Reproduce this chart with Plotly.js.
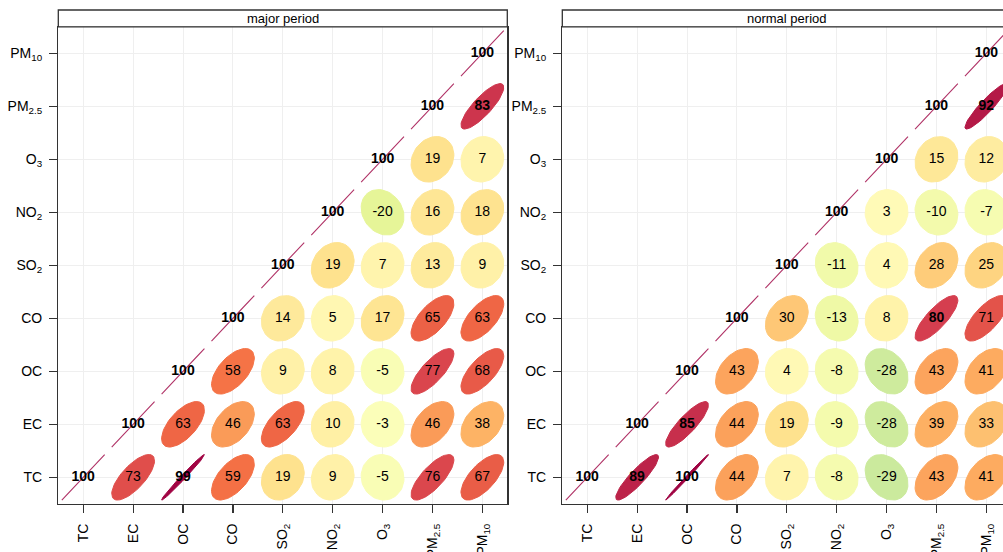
<!DOCTYPE html>
<html><head><meta charset="utf-8">
<script src="https://cdn.plot.ly/plotly-3.0.1.min.js"></script>
<style>html,body{margin:0;padding:0;overflow:hidden;background:#fff}#chart{width:1020px;height:552px}</style>
</head><body><div id="chart"></div>
<script>
// variables (x: left->right, y: bottom->top)
const species = ['TC','EC','OC','CO','SO<sub>2</sub>','NO<sub>2</sub>','O<sub>3</sub>','PM<sub>2.5</sub>','PM<sub>10</sub>'];
const panelTitles = ['major period','normal period'];

// correlations x100, upper triangle: each row starts at its own column and runs to PM10
const majorTC   = [100, 73, 99, 59, 19, 9, -5, 76, 67];
const majorEC   = [100, 63, 46, 63, 10, -3, 46, 38];
const majorOC   = [100, 58, 9, 8, -5, 77, 68];
const majorCO   = [100, 14, 5, 17, 65, 63];
const majorSO2  = [100, 19, 7, 13, 9];
const majorNO2  = [100, -20, 16, 18];
const majorO3   = [100, 19, 7];
const majorPM25 = [100, 83];
const majorPM10 = [100];

const normalTC   = [100, 89, 99.6, 44, 7, -8, -29, 43, 41];
const normalEC   = [100, 85, 44, 19, -9, -28, 39, 33];
const normalOC   = [100, 43, 4, -8, -28, 43, 41];
const normalCO   = [100, 30, -13, 8, 80, 71];
const normalSO2  = [100, -11, 4, 28, 25];
const normalNO2  = [100, 3, -10, -7];
const normalO3   = [100, 15, 12];
const normalPM25 = [100, 92];
const normalPM10 = [100];

const majorRows  = [majorTC, majorEC, majorOC, majorCO, majorSO2, majorNO2, majorO3, majorPM25, majorPM10];
const normalRows = [normalTC, normalEC, normalOC, normalCO, normalSO2, normalNO2, normalO3, normalPM25, normalPM10];

// colour scale (reversed Spectral), from r=-1 to r=+1
const spectralColours = ['#5E4FA2','#3288BD','#66C2A5','#ABDDA4','#E6F598','#FFFFBF','#FEE08B','#FDAE61','#F46D43','#D53E4F','#9E0142'];

function hex2rgb(h){return [parseInt(h.substr(1,2),16),parseInt(h.substr(3,2),16),parseInt(h.substr(5,2),16)];}
function colourFor(r){
  const pos = Math.max(0, Math.min(1, (r + 1) / 2)) * (spectralColours.length - 1);
  const i = Math.min(Math.floor(pos), spectralColours.length - 2);
  const f = pos - i;
  const a = hex2rgb(spectralColours[i]), b = hex2rgb(spectralColours[i+1]);
  const c = a.map((v,k)=>Math.round(v + (b[k]-v)*f));
  return 'rgb(' + c.join(',') + ')';
}
function ellipsePts(r, cx, cy){
  const a = 0.2 * Math.sqrt(-2 * Math.log(0.1));
  const d = Math.acos(Math.max(-1, Math.min(1, r)));
  const xs = [], ys = [];
  const N = 60;
  for (let k = 0; k <= N; k++){
    const t = 2 * Math.PI * k / N;
    xs.push(cx + a * Math.cos(t + d/2));
    ys.push(cy + a * Math.cos(t - d/2));
  }
  return {xs, ys};
}

const traces = [];
const FONT = 'Liberation Sans, Arial, sans-serif';
[majorRows, normalRows].forEach((rows, p) => {
  const xa = p === 0 ? 'x' : 'x2', ya = p === 0 ? 'y' : 'y2';
  const tx = [], ty = [], tt = [];
  rows.forEach((row, i) => {
    row.forEach((v, k) => {
      const j = i + k;           // column index
      const r = v / 100;
      const e = ellipsePts(r, j + 1, i + 1);
      const col = colourFor(r);
      const diag = (k === 0);
      traces.push({type:'scatter', mode:'lines', x:e.xs, y:e.ys, xaxis:xa, yaxis:ya,
        fill:'toself', fillcolor:col, line:{color:col, width:diag ? 1.1 : 1},
        opacity: diag ? 0.8 : 1, hoverinfo:'skip', showlegend:false});
      const lab = Math.round(v);
      tx.push(j + 1); ty.push(i + 1);
      tt.push(lab >= 80 ? '<b>' + lab + '</b>' : String(lab));
    });
  });
  traces.push({type:'scatter', mode:'text', x:tx, y:ty, text:tt, xaxis:xa, yaxis:ya,
    textposition:'middle center', textfont:{family:FONT, size:14, color:'#000'},
    hoverinfo:'skip', showlegend:false});
});

const W = 1020, H = 552;
function axisBase(){
  return {range:[0.5, 9.5], tickmode:'array', tickvals:[1,2,3,4,5,6,7,8,9], ticktext:species,
    showgrid:true, gridcolor:'#EFEFEF', gridwidth:1, zeroline:false,
    showline:true, mirror:true, linecolor:'#333', linewidth:1.3,
    ticks:'outside', ticklen:8, tickwidth:1.2, tickcolor:'#333',
    tickfont:{family:FONT, size:14, color:'#000'}, fixedrange:true};
}
const yDom = [1 - 503.8/H, 1 - 26.8/H];
const xDomL = [58.3/W, 507.3/W], xDomR = [562.3/W, 1011.3/W];

const layout = {
  width:W, height:H, margin:{l:0, r:0, t:0, b:0}, paper_bgcolor:'#fff', plot_bgcolor:'#fff',
  showlegend:false, hovermode:false,
  xaxis: Object.assign(axisBase(), {domain:xDomL, anchor:'y', tickangle:-90, ticklabelstandoff:5}),
  yaxis: Object.assign(axisBase(), {domain:yDom, anchor:'x', ticklabelstandoff:4}),
  xaxis2: Object.assign(axisBase(), {domain:xDomR, anchor:'y2', tickangle:-90, ticklabelstandoff:5}),
  yaxis2: Object.assign(axisBase(), {domain:yDom, anchor:'x2', ticklabelstandoff:4}),
  shapes: [xDomL, xDomR].map(d => ({type:'rect', xref:'paper', yref:'paper', x0:d[0], x1:d[1],
    y0:1 - 26.8/H, y1:1 - 10/H, fillcolor:'#fff', line:{color:'#333', width:1.3}, layer:'above'})),
  annotations: [xDomL, xDomR].map((d, p) => ({xref:'paper', yref:'paper', x:(d[0]+d[1])/2, y:1 - 18.4/H,
    text:panelTitles[p], showarrow:false, xanchor:'center', yanchor:'middle',
    font:{family:FONT, size:13, color:'#000'}}))
};

Plotly.newPlot('chart', traces, layout, {displayModeBar:false, staticPlot:true});
</script>
</body></html>
